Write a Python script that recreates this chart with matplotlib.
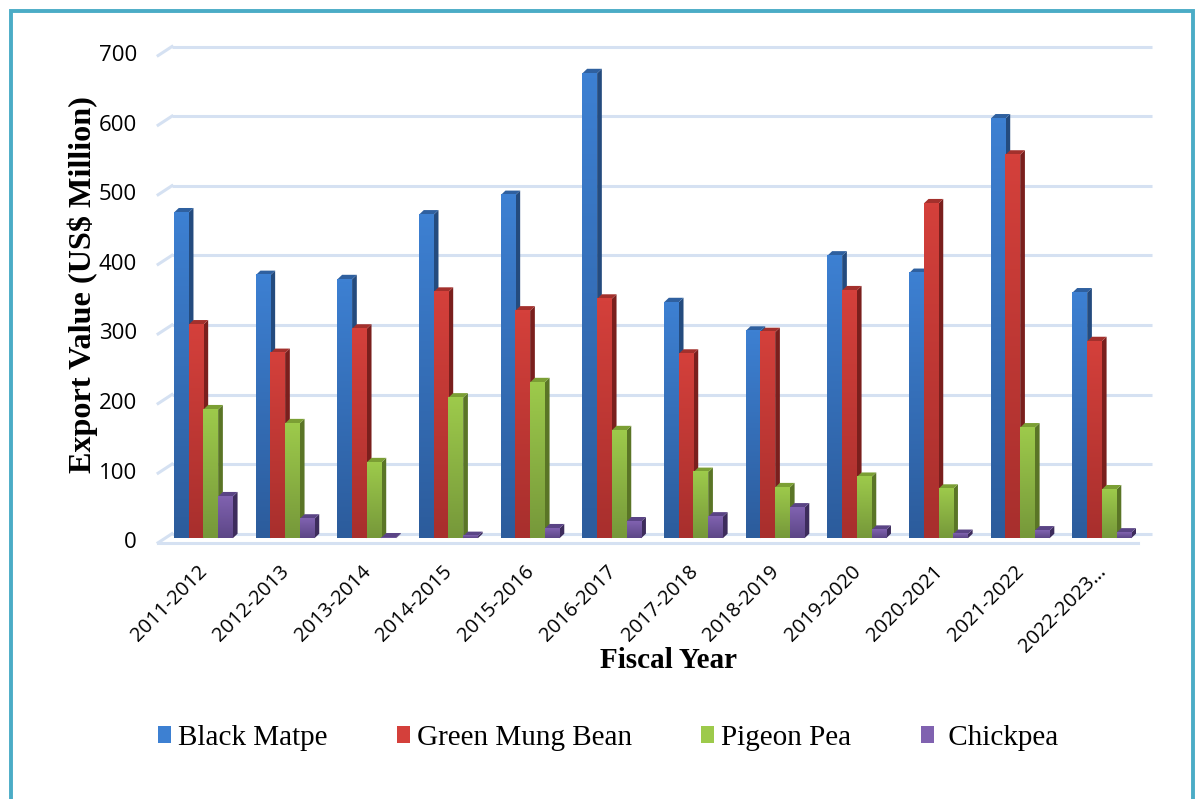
import numpy as np
import matplotlib
matplotlib.use('Agg')
import matplotlib.pyplot as plt
from matplotlib.patches import Polygon, Rectangle, Patch
from matplotlib.colors import LinearSegmentedColormap

# ---------------- data ----------------
years = ['2011-2012', '2012-2013', '2013-2014', '2014-2015', '2015-2016', '2016-2017',
         '2017-2018', '2018-2019', '2019-2020', '2020-2021', '2021-2022', '2022-2023…']
black_matpe = [468, 378, 372, 465, 493, 668, 339, 298, 406, 381, 603, 353]
green_mung = [307, 266, 301, 354, 327, 344, 265, 296, 356, 481, 551, 283]
pigeon_pea = [185, 165, 109, 202, 224, 155, 95, 73, 88, 71, 159, 70]
chickpea = [60, 28, 1, 3, 14, 24, 31, 44, 12, 6, 11, 8]
series_names = ['Black Matpe', 'Green Mung Bean', 'Pigeon Pea', ' Chickpea']
yticks = [0, 100, 200, 300, 400, 500, 600, 700]

# ---------------- style ----------------
# (top colour, bottom colour, side colour, top-face colour)
palette = [
    ('#3D80D2', '#2C5C9C', '#244B7E', '#2F609F'),
    ('#D4403B', '#A82F2D', '#7A1F1D', '#A3302C'),
    ('#9DCA4B', '#76983A', '#5A7526', '#7B9F34'),
    ('#8062B0', '#5D4787', '#3D2C5C', '#5A4485'),
]
grid_col = '#D5E1F2'
W = 0.18          # bar width (category units)
DX = 0.058        # bar depth offset x
DY = 6.5          # bar depth offset y (value units)
FDX = 0.17        # floor/wall depth x
FDY = 13.0        # floor/wall depth y

fig = plt.figure(figsize=(11.97, 7.99), dpi=100)
ax = fig.add_axes([0.1198, 0.3059, 0.8495, 0.6533])
XL = (-0.85, 11.6)
YL = (-30, 720)

n = len(years)
# gridlines (back wall + left wall stubs)
for g in yticks:
    ax.plot([-0.5, n - 0.5], [g, g], color=grid_col, lw=2.2, zorder=1, solid_capstyle='butt')
    ax.plot([-0.5 - FDX, -0.5], [g - FDY, g], color=grid_col, lw=2.2, zorder=1)
# floor front edge
ax.plot([-0.5 - FDX, n - 0.5 - FDX], [-FDY, -FDY], color=grid_col, lw=2.2, zorder=1)

series = [black_matpe, green_mung, pigeon_pea, chickpea]
offsets = -0.475 + np.arange(4) * W
grad = np.linspace(0, 1, 64).reshape(-1, 1)
for si, vals in enumerate(series):
    ctop, cbot, cside, ctopface = palette[si]
    cmap = LinearSegmentedColormap.from_list('g%d' % si, [cbot, ctop])
    zb = 3 + si * 0.1
    for i, v in enumerate(vals):
        xl = i + offsets[si]
        xr = xl + W
        y0 = -DY
        y1 = v - DY
        side = Polygon([(xr, y0), (xr + DX, y0 + DY), (xr + DX, y1 + DY), (xr, y1)],
                       closed=True, facecolor=cside, edgecolor='none', zorder=zb)
        ax.add_patch(side)
        top = Polygon([(xl, y1), (xl + DX, y1 + DY), (xr + DX, y1 + DY), (xr, y1)],
                      closed=True, facecolor=ctopface, edgecolor='none', zorder=zb + 0.01)
        ax.add_patch(top)
        ax.imshow(grad, extent=[xl, xr, y0, y1], origin='lower', cmap=cmap,
                  aspect='auto', interpolation='bilinear', zorder=zb + 0.02)

ax.set_xlim(*XL)
ax.set_ylim(*YL)
for s in ax.spines.values():
    s.set_visible(False)
ax.set_yticks([])
ax.set_xticks(np.arange(n) - 0.1)
ax.set_xticklabels(years, rotation=45, ha='right', va='center', rotation_mode='anchor',
                   fontsize=14.5, family='Open Sans')
ax.tick_params(axis='x', length=0, pad=10)

for g in yticks:
    ax.text(-0.93, g - FDY, str(g), ha='right', va='center', fontsize=16,
            family='Open Sans', clip_on=False)

fig.text(669 / 1197, 1 - 660 / 799, 'Fiscal Year', ha='center', va='center',
         fontsize=21, fontweight='bold', family='Liberation Serif')
fig.text(83 / 1197, 1 - 285 / 799, 'Export Value (US$ Million)', ha='center', va='center',
         rotation=90, fontsize=23.2, fontweight='bold', family='Liberation Serif')

handles = [Patch(facecolor=p[0], edgecolor='none') for p in palette]
fig.legend(handles, series_names, loc='center', bbox_to_anchor=(608 / 1197, 1 - 738 / 799),
           ncol=4, frameon=False, prop={'family': 'Liberation Serif', 'size': 21},
           handlelength=0.45, handleheight=0.5, handletextpad=0.24, columnspacing=2.37)

fig.patches.append(Rectangle((11 / 1197, -0.05), (1193 - 11) / 1197, 1.05 - 11 / 799,
                             transform=fig.transFigure, fill=False, edgecolor='#4BACC6',
                             lw=2.8, clip_on=False))

fig.savefig('out.png', dpi=100)
